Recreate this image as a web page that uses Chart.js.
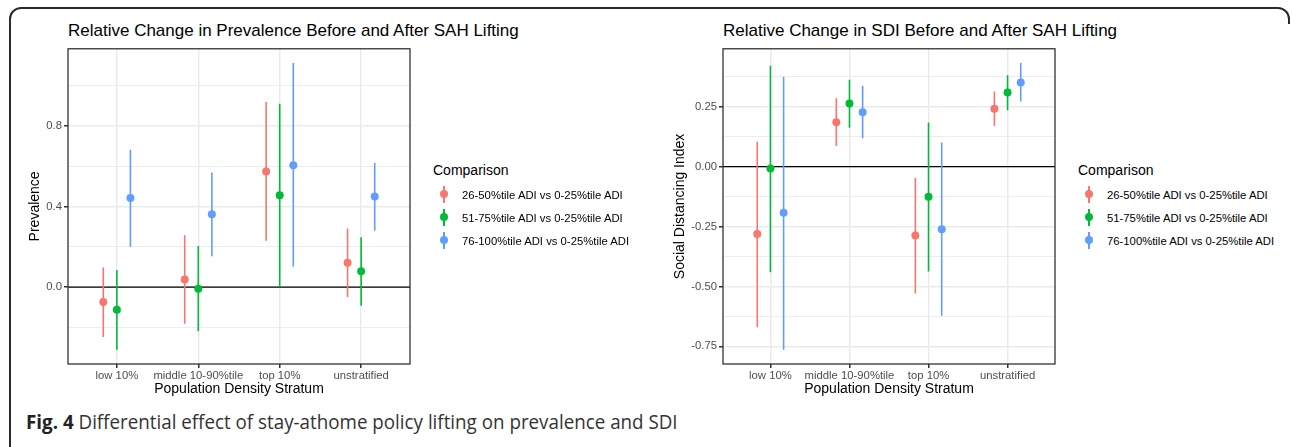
<!DOCTYPE html>
<html>
<head>
<meta charset="utf-8">
<script src="https://cdn.jsdelivr.net/npm/chart.js@4/dist/chart.umd.min.js"></script>
<style>
  body { margin: 0; background: #fff; width: 1292px; height: 447px; position: relative; overflow: hidden;
         font-family: "Liberation Sans", Arial, sans-serif; }
  .frame { position: absolute; left: 9px; top: 7px; width: 1281px; height: 452px; border: 2px solid #2b2b2b;
           border-radius: 12px; box-sizing: border-box; }
  .mask { position: absolute; left: 1280px; top: 24px; width: 20px; height: 440px; background: #fff; }
  .plot { position: absolute; }
  .title { position: absolute; font-size: 17px; line-height: 20px; color: #000; white-space: nowrap; }
  .legend { position: absolute; }
  .legend .head { position: absolute; left: 0; top: 0; font-size: 14px; line-height: 16px; white-space: nowrap; }
  .legend .item { position: absolute; left: 0; height: 18px; width: 220px; }
  .legend .bar { position: absolute; width: 1.5px; height: 17px; top: 0; }
  .legend .dot { position: absolute; width: 8px; height: 8px; border-radius: 50%; top: 4.5px; }
  .legend .txt { position: absolute; font-size: 11.3px; line-height: 18px; top: 0; white-space: nowrap; color: #000; }
  .caption { position: absolute; left: 26px; top: 410px; font-family: "Open Sans", sans-serif; font-size: 19.5px;
             line-height: 24px; color: #333; white-space: nowrap; transform-origin: 0 50%; transform: scaleX(0.963); }
  .caption b { color: #222; }
</style>
</head>
<body>
<div class="frame"></div>
<div class="mask"></div>

<div class="title" style="left:68px;top:21px">Relative Change in Prevalence Before and After SAH Lifting</div>
<div class="title" style="left:723px;top:21px">Relative Change in SDI Before and After SAH Lifting</div>

<div class="plot" style="left:0px;top:40px"><canvas id="prevChart" width="414" height="360"></canvas></div>
<div class="plot" style="left:640px;top:40px"><canvas id="sdiChart" width="419" height="360"></canvas></div>

<div class="legend" id="legendLeft" style="left:433px;top:162px"></div>
<div class="legend" id="legendRight" style="left:1078px;top:162px"></div>

<div class="caption" id="caption"><b>Fig. 4</b> Differential effect of stay-athome policy lifting on prevalence and SDI</div>

<script>
const categories = ['low 10%', 'middle 10-90%tile', 'top 10%', 'unstratified'];
const seriesNames = ['26-50%tile ADI vs 0-25%tile ADI', '51-75%tile ADI vs 0-25%tile ADI', '76-100%tile ADI vs 0-25%tile ADI'];
const seriesColors = ['#F8766D', '#00BA38', '#619CFF'];
const dodge = [-1 / 6, 0, 1 / 6];

// prevalence panel: estimate, lower, upper per stratum
const prevEst26 = [-0.074, 0.038, 0.573, 0.121];
const prevLo26 = [-0.247, -0.181, 0.230, -0.049];
const prevHi26 = [0.097, 0.258, 0.918, 0.291];
const prevEst51 = [-0.112, -0.008, 0.456, 0.079];
const prevLo51 = [-0.310, -0.219, 0.002, -0.092];
const prevHi51 = [0.085, 0.204, 0.910, 0.248];
const prevEst76 = [0.442, 0.362, 0.605, 0.449];
const prevLo76 = [0.200, 0.153, 0.102, 0.280];
const prevHi76 = [0.681, 0.569, 1.111, 0.617];

// SDI panel
const sdiEst26 = [-0.281, 0.185, -0.288, 0.242];
const sdiLo26 = [-0.670, 0.086, -0.530, 0.169];
const sdiHi26 = [0.104, 0.285, -0.047, 0.313];
const sdiEst51 = [-0.008, 0.263, -0.126, 0.309];
const sdiLo51 = [-0.441, 0.162, -0.438, 0.235];
const sdiHi51 = [0.421, 0.363, 0.184, 0.381];
const sdiEst76 = [-0.193, 0.227, -0.261, 0.351];
const sdiLo76 = [-0.764, 0.118, -0.622, 0.272];
const sdiHi76 = [0.375, 0.337, 0.101, 0.432];

const prevTicks = [0, 0.4, 0.8];
const prevMinor = [-0.2, 0.2, 0.6, 1.0];
const sdiTicks = [-0.75, -0.5, -0.25, 0, 0.25];
const sdiMinor = [-0.625, -0.375, -0.125, 0.125, 0.375];
const refLine = 0;

Chart.defaults.font.family = '"Liberation Sans", Arial, sans-serif';

// draws the full panel border like theme_bw
const panelBorder = {
  id: 'panelBorder',
  afterDraw(chart) {
    const { ctx, chartArea: a } = chart;
    ctx.save();
    ctx.strokeStyle = '#333';
    ctx.lineWidth = 1.3;
    ctx.strokeRect(a.left, a.top, a.right - a.left, a.bottom - a.top);
    ctx.restore();
  }
};

function makeChart(id, est, lo, hi, yTitle, ticks, minor, fmt, yWidth, titlePad) {
  const all = lo.flat().concat(hi.flat());
  const dmin = Math.min(...all), dmax = Math.max(...all);
  const pad = (dmax - dmin) * 0.05;
  const isMajor = v => ticks.some(t => Math.abs(t - v) < 1e-6);

  const datasets = [];
  est.forEach((vals, s) => {
    datasets.push({
      type: 'scatter', order: 0,
      data: vals.map((v, i) => ({ x: i + 1 + dodge[s], y: v })),
      backgroundColor: seriesColors[s], borderWidth: 0, pointRadius: 4
    });
  });
  lo.forEach((vals, s) => {
    const data = [];
    vals.forEach((v, i) => {
      const x = i + 1 + dodge[s];
      data.push({ x, y: v }, { x, y: hi[s][i] }, { x, y: null });
    });
    datasets.push({
      type: 'line', order: 1, data, borderColor: seriesColors[s], borderWidth: 1.6,
      pointRadius: 0, spanGaps: false, fill: false
    });
  });
  datasets.push({
    type: 'line', order: 2, data: [{ x: 0.4, y: refLine }, { x: 4.6, y: refLine }],
    borderColor: '#000', borderWidth: 1.3, pointRadius: 0
  });

  return new Chart(document.getElementById(id), {
    type: 'scatter',
    data: { datasets },
    options: {
      responsive: false,
      animation: false,
      events: [],
      layout: { padding: { top: 8.3, right: 2, left: 0, bottom: 0 } },
      plugins: { legend: { display: false }, tooltip: { enabled: false } },
      scales: {
        x: {
          type: 'linear', min: 0.4, max: 4.6,
          afterBuildTicks: s => { s.ticks = categories.map((c, i) => ({ value: i + 1 })); },
          afterFit: s => { s.height = 36; },
          border: { display: false },
          grid: { color: '#ebebeb', lineWidth: 1.5, tickLength: 4, tickColor: '#333' },
          ticks: { color: '#4d4d4d', font: { size: 11.3 }, padding: 1, maxRotation: 0, autoSkip: false,
                   callback: v => categories[Math.round(v) - 1] },
          title: { display: true, text: 'Population Density Stratum', color: '#000', font: { size: 14 },
                   padding: { top: 0, bottom: 2 } }
        },
        y: {
          type: 'linear', min: dmin - pad, max: dmax + pad,
          afterBuildTicks: s => { s.ticks = ticks.concat(minor).sort((a, b) => a - b).map(v => ({ value: v })); },
          afterFit: s => { s.width = yWidth; },
          border: { display: false },
          grid: {
            color: '#ebebeb',
            lineWidth: c => isMajor(c.tick.value) ? 1.5 : 0.9,
            tickLength: 4,
            tickColor: c => isMajor(c.tick.value) ? '#333' : 'rgba(0,0,0,0)'
          },
          ticks: { color: '#4d4d4d', font: { size: 11.3 }, padding: 2, autoSkip: false,
                   callback: v => isMajor(v) ? fmt(v) : '' },
          title: { display: true, text: yTitle, color: '#000', font: { size: 14 },
                   padding: { top: titlePad, bottom: 0 } }
        }
      }
    },
    plugins: [panelBorder]
  });
}

makeChart('prevChart',
  [prevEst26, prevEst51, prevEst76], [prevLo26, prevLo51, prevLo76], [prevHi26, prevHi51, prevHi76],
  'Prevalence', prevTicks, prevMinor, v => v.toFixed(1), 68, 27);

makeChart('sdiChart',
  [sdiEst26, sdiEst51, sdiEst76], [sdiLo26, sdiLo51, sdiLo76], [sdiHi26, sdiHi51, sdiHi76],
  'Social Distancing Index', sdiTicks, sdiMinor, v => v.toFixed(2), 83, 32);

function buildLegend(id) {
  const box = document.getElementById(id);
  const head = document.createElement('div');
  head.className = 'head';
  head.textContent = 'Comparison';
  box.appendChild(head);
  seriesNames.forEach((name, s) => {
    const item = document.createElement('div');
    item.className = 'item';
    item.style.top = (23.5 + s * 23) + 'px';
    item.innerHTML = '<div class="bar" style="left:10.3px;background:' + seriesColors[s] + '"></div>' +
      '<div class="dot" style="left:7px;background:' + seriesColors[s] + '"></div>' +
      '<div class="txt" style="left:29px">' + name + '</div>';
    box.appendChild(item);
  });
}
buildLegend('legendLeft');
buildLegend('legendRight');
</script>
</body>
</html>
